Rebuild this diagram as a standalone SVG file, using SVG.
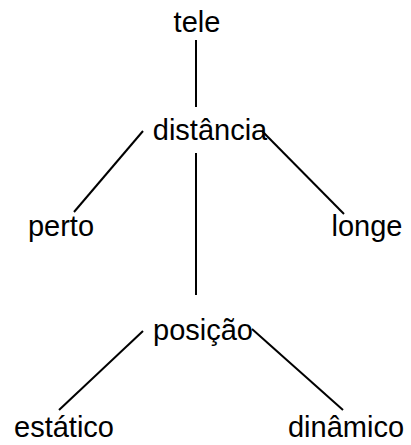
<svg xmlns="http://www.w3.org/2000/svg" width="411" height="445" viewBox="0 0 411 445">
<style>
text{font-family:"Liberation Sans",Arial,sans-serif;font-size:29px;fill:#000;text-anchor:middle}
line{stroke:#000;stroke-width:2}
</style>
<rect width="411" height="445" fill="#fff"/>
<g id="connectors">
<line x1="196" y1="40" x2="196" y2="107"/>
<line x1="143" y1="131" x2="74" y2="212"/>
<line x1="262" y1="131" x2="344" y2="214"/>
<line x1="196" y1="153" x2="196" y2="295"/>
<line x1="143" y1="331" x2="59" y2="410"/>
<line x1="252" y1="329" x2="343" y2="410"/>
</g>
<g id="tele"><text x="197" y="32">tele</text></g>
<g id="distancia"><text x="210" y="140">distância</text></g>
<g id="perto"><text x="61" y="236">perto</text></g>
<g id="longe"><text x="367" y="236">longe</text></g>
<g id="posicao"><text x="203" y="340">posição</text></g>
<g id="estatico"><text x="64" y="437">estático</text></g>
<g id="dinamico"><text x="346" y="437">dinâmico</text></g>
</svg>
